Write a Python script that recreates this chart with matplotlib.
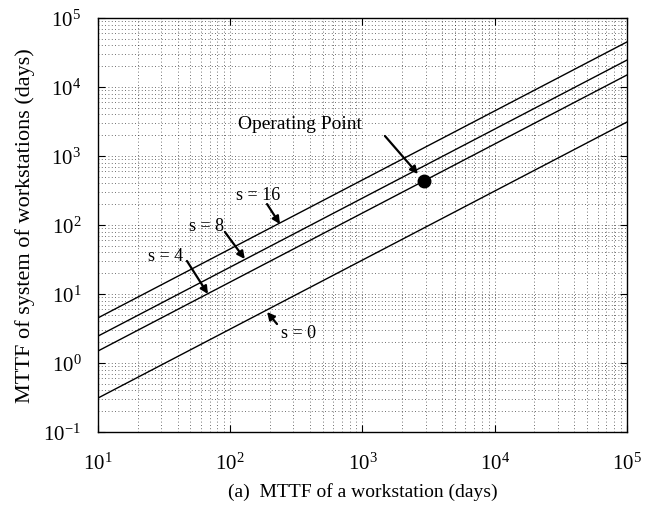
import matplotlib
matplotlib.use("Agg")
import matplotlib.pyplot as plt
import numpy as np

plt.rcParams['font.family'] = ['Liberation Serif', 'DejaVu Serif']
plt.rcParams['mathtext.fontset'] = 'custom'
plt.rcParams['mathtext.rm'] = 'Liberation Serif'
plt.rcParams['mathtext.it'] = 'Liberation Serif:italic'

# Data
x_days = [10, 1e5]
series_labels = ["s = 0", "s = 4", "s = 8", "s = 16"]
y_s0 = [0.31, 3100]
y_s4 = [1.49, 14900]
y_s8 = [2.45, 24500]
y_s16 = [4.5, 44900]
op_x = [2920]
op_y = [434]

fig = plt.figure(figsize=(6.53, 5.06), dpi=100)
ax = fig.add_axes([0.150, 0.1443, 0.810, 0.8182])

for ys in (y_s0, y_s4, y_s8, y_s16):
    ax.plot(x_days, ys, color='black', linewidth=1.0)
ax.plot(op_x, op_y, 'o', color='black', markersize=9)

ax.set_xscale('log')
ax.set_yscale('log')
ax.set_xlim(10, 1e5)
ax.set_ylim(1e-1, 1e5)
ax.set_xticks([1e1, 1e2, 1e3, 1e4, 1e5])
ax.set_yticks([1e-1, 1e0, 1e1, 1e2, 1e3, 1e4, 1e5])

ax.grid(True, which='both', linestyle=(0, (1, 3)), color='black', linewidth=0.6, alpha=0.75)
ax.tick_params(which='both', direction='in', top=True, right=True, labelsize=15)
ax.tick_params(which='major', length=5)
ax.tick_params(which='minor', length=0)
ax.tick_params(axis='x', pad=15)
ax.tick_params(axis='y', pad=12)
for sp in ax.spines.values():
    sp.set_linewidth(1.0)

ax.set_ylabel("MTTF of system of workstations (days)", fontsize=16, labelpad=6)
ax.set_xlabel("(a)  MTTF of a workstation (days)", fontsize=14, labelpad=6)

arrowprops = dict(arrowstyle='-|>', color='black', lw=1.6, mutation_scale=11,
                  shrinkA=0, shrinkB=0)
fs = 13
ax.text(337, 2910, "Operating Point", ha='center', va='center', fontsize=14)
ax.annotate("", xy=(2630, 548), xytext=(1480, 1950), arrowprops=arrowprops)
ax.text(162, 272, "s = 16", ha='center', va='center', fontsize=fs)
ax.annotate("", xy=(238, 103), xytext=(190, 201), arrowprops=arrowprops)
ax.text(66.7, 96.8, "s = 8", ha='center', va='center', fontsize=fs)
ax.annotate("", xy=(129, 32.1), xytext=(91.2, 79.2), arrowprops=arrowprops)
ax.text(32.7, 35.6, "s = 4", ha='center', va='center', fontsize=fs)
ax.annotate("", xy=(67.9, 10), xytext=(47.1, 30.1), arrowprops=arrowprops)
ax.text(331, 2.81, "s = 0", ha='center', va='center', fontsize=fs)
ax.annotate("", xy=(190, 5.49), xytext=(226, 3.67), arrowprops=arrowprops)

fig.savefig("out.png", dpi=100)
